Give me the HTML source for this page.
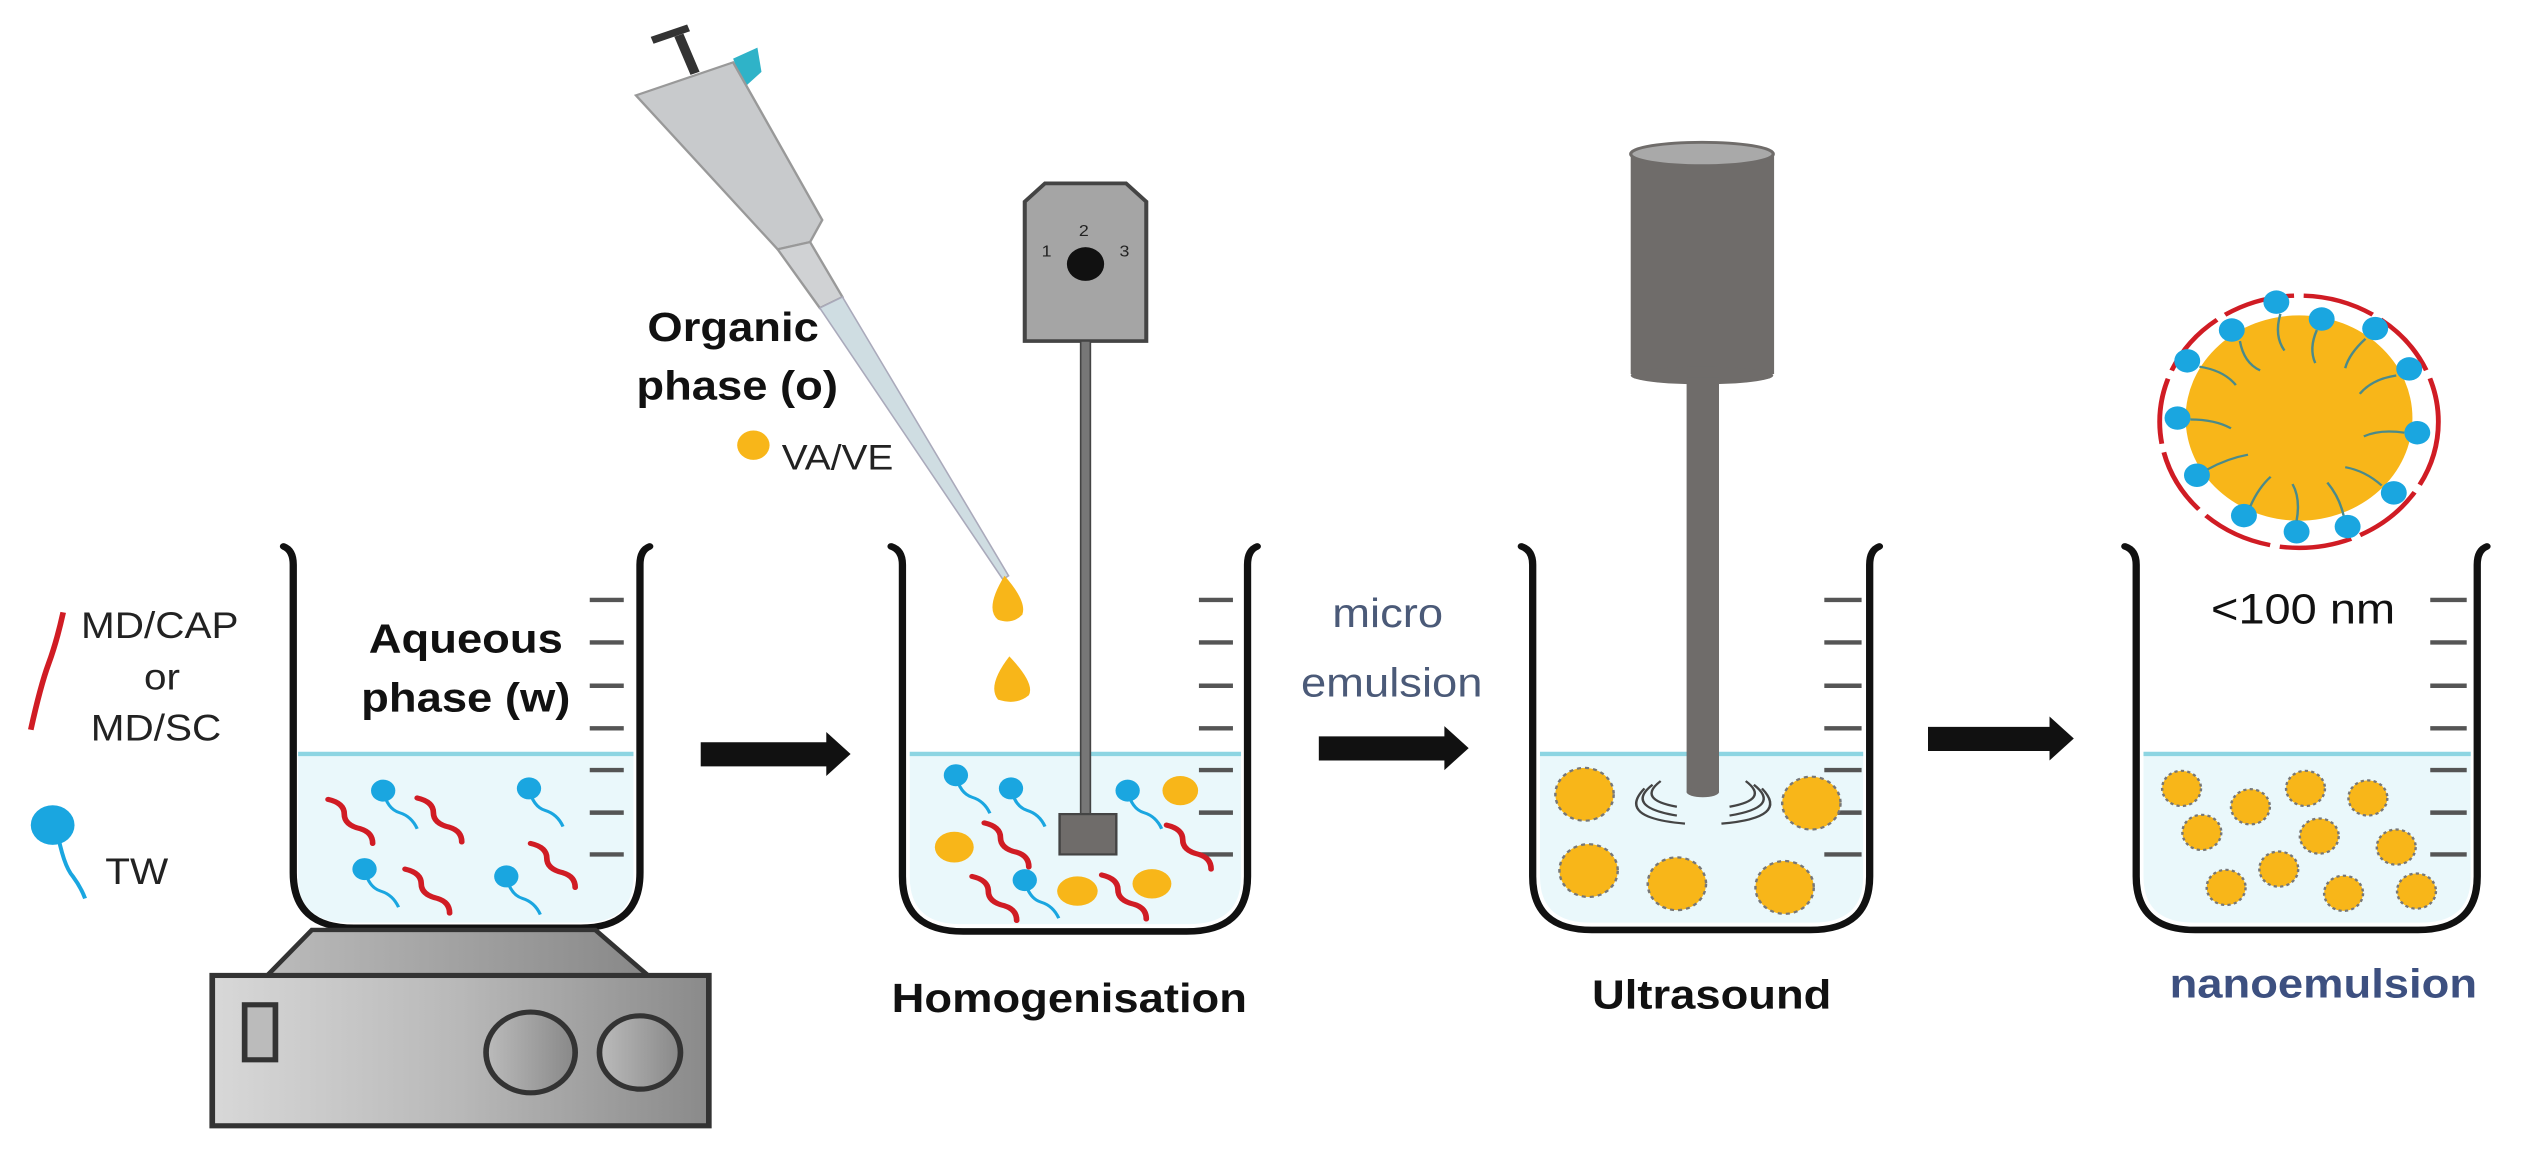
<!DOCTYPE html>
<html><head><meta charset="utf-8"><style>html,body{margin:0;padding:0;background:#fff;overflow:hidden}svg{display:block}</style></head><body>
<svg width="2538" height="1150" viewBox="0 0 3133 1568" preserveAspectRatio="none" xmlns="http://www.w3.org/2000/svg" font-family="Liberation Sans, Arial, sans-serif">
<defs>
<linearGradient id="sg" x1="0" x2="1"><stop offset="0" stop-color="#d8d8d8"/><stop offset="0.5" stop-color="#b8b8b8"/><stop offset="1" stop-color="#8a8a8a"/></linearGradient>
<linearGradient id="cg" x1="0" x2="1"><stop offset="0" stop-color="#bbb"/><stop offset="1" stop-color="#888"/></linearGradient>
<g id="np"><circle r="36" fill="#f8b619" stroke="#777" stroke-width="3" stroke-dasharray="5,5"/></g>
<g id="np2"><circle r="24" fill="#f8b619" stroke="#777" stroke-width="3" stroke-dasharray="4,4"/></g>
<g id="tad"><path d="M0,0 q5,25 20,30 q15,5 22,22" fill="none" stroke="#1aa6e0" stroke-width="4"/><circle r="15" fill="#1aa6e0"/></g>
<g id="sq"><path d="M0,0 q20,5 20,20 q0,15 20,20 q15,5 15,20" fill="none" stroke="#d01c24" stroke-width="7" stroke-linecap="round"/></g>
</defs>

<g fill="#eaf8fb">
<path d="M368,1028 L782,1028 L782,1195 Q782,1258 720,1258 L430,1258 Q368,1258 368,1195Z"/>
<path d="M1123,1028 L1532,1028 L1532,1195 Q1532,1260 1468,1260 L1185,1260 Q1123,1260 1123,1195Z"/>
<path d="M1901,1028 L2300,1028 L2300,1195 Q2300,1258 2238,1258 L1963,1258 Q1901,1258 1901,1195Z"/>
<path d="M2646,1028 L3050,1028 L3050,1195 Q3050,1258 2988,1258 L2708,1258 Q2646,1258 2646,1195Z"/>
</g>
<g stroke="#8dd5e2" stroke-width="6">
<line x1="368" y1="1028" x2="782" y2="1028"/><line x1="1123" y1="1028" x2="1532" y2="1028"/>
<line x1="1901" y1="1028" x2="2300" y2="1028"/><line x1="2646" y1="1028" x2="3050" y2="1028"/>
</g>

<g stroke="#555" stroke-width="6">
<path d="M728,818h42M728,876h42M728,935h42M728,993h42M728,1050h42M728,1108h42M728,1165h42"/>
<path d="M1480,818h42M1480,876h42M1480,935h42M1480,993h42M1480,1050h42M1480,1108h42M1480,1165h42"/>
<path d="M2252,818h46M2252,876h46M2252,935h46M2252,993h46M2252,1050h46M2252,1108h46M2252,1165h46"/>
<path d="M3000,818h45M3000,876h45M3000,935h45M3000,993h45M3000,1050h45M3000,1108h45M3000,1165h45"/>
</g>

<g stroke="#111" stroke-width="9" fill="none" stroke-linecap="round">
<path d="M350,745 q12,5 12,25 L362,1190 Q362,1265 437,1265 L717,1265 Q790,1265 790,1190 L790,770 q0,-20 12,-25"/>
<path d="M1100,745 q14,5 14,25 L1114,1195 Q1114,1270 1189,1270 L1465,1270 Q1540,1270 1540,1195 L1540,770 q0,-20 12,-25"/>
<path d="M1878,745 q14,5 14,25 L1892,1195 Q1892,1268 1965,1268 L2235,1268 Q2308,1268 2308,1195 L2308,770 q0,-20 12,-25"/>
<path d="M2623,745 q14,5 14,25 L2637,1195 Q2637,1268 2710,1268 L2985,1268 Q3058,1268 3058,1195 L3058,770 q0,-20 12,-25"/>
</g>

<path d="M385,1268 L735,1268 L800,1330 L330,1330Z" fill="url(#cg)" stroke="#333" stroke-width="6"/>
<rect x="262" y="1330" width="613" height="205" fill="url(#sg)" stroke="#333" stroke-width="7"/>
<rect x="302" y="1370" width="38" height="75" fill="#bbb" stroke="#333" stroke-width="7"/>
<circle cx="655" cy="1435" r="55" fill="url(#cg)" stroke="#333" stroke-width="7"/>
<circle cx="790" cy="1435" r="50" fill="url(#cg)" stroke="#333" stroke-width="7"/>

<path d="M78,835 q-8,40 -18,70 q-10,30 -22,90" fill="none" stroke="#d01c24" stroke-width="7"/>
<g font-size="50" fill="#222">
<text x="100" y="870">MD/CAP</text><text x="200" y="940" text-anchor="middle">or</text><text x="112" y="1010">MD/SC</text>
<text x="130" y="1205">TW</text>
</g>
<path d="M70,1130 q8,50 20,65 q10,15 15,30" fill="none" stroke="#1aa6e0" stroke-width="5"/>
<circle cx="65" cy="1125" r="27" fill="#1aa6e0"/>

<g font-size="56" font-weight="bold" fill="#111" text-anchor="middle">
<text x="575" y="890">Aqueous</text><text x="575" y="970">phase (w)</text>
<text x="905" y="465">Organic</text><text x="910" y="545">phase (o)</text>
<text x="1320" y="1380">Homogenisation</text>
<text x="2113" y="1375">Ultrasound</text>
<text x="2868" y="1360" fill="#3d5080">nanoemulsion</text>
</g>
<text x="965" y="640" font-size="48" fill="#222">VA/VE</text>
<circle cx="930" cy="607" r="20" fill="#f8b619"/>
<g font-size="56" fill="#4b5a78" text-anchor="middle"><text x="1713" y="855">micro</text><text x="1718" y="950">emulsion</text></g>
<text x="2843" y="850" font-size="58" fill="#111" text-anchor="middle">&lt;100 nm</text>

<g fill="#111">
<path d="M865,1012 L1020,1012 L1020,998 L1050,1028 L1020,1058 L1020,1045 L865,1045Z"/>
<path d="M1628,1004 L1783,1004 L1783,990 L1813,1020 L1783,1050 L1783,1037 L1628,1037Z"/>
<path d="M2380,991 L2530,991 L2530,977 L2560,1007 L2530,1037 L2530,1024 L2380,1024Z"/>
</g>

<use href="#sq" x="405" y="1090"/><use href="#sq" x="515" y="1088"/><use href="#sq" x="500" y="1185"/><use href="#sq" x="655" y="1150"/>
<use href="#tad" x="473" y="1078"/><use href="#tad" x="653" y="1075"/><use href="#tad" x="450" y="1185"/><use href="#tad" x="625" y="1195"/>

<path d="M838,48 L858,100" stroke="#333" stroke-width="12"/><path d="M805,55 L850,38" stroke="#333" stroke-width="10"/>
<path d="M905,80 L935,65 L940,98 L918,120Z" fill="#2fb3c8"/>
<path d="M785,130 L905,85 L1015,300 L1000,330 L960,340 Z" fill="#c8cacc" stroke="#999" stroke-width="3"/>
<path d="M960,340 L1000,330 L1040,405 L1012,420Z" fill="#d0d2d4" stroke="#999" stroke-width="3"/>
<path d="M1012,420 L1040,405 L1245,785 L1238,790Z" fill="#cfdde2" stroke="#aab" stroke-width="2"/>

<path d="M1265,275 L1290,250 L1390,250 L1415,275 L1415,465 L1265,465Z" fill="#a5a5a5" stroke="#444" stroke-width="5"/>
<circle cx="1340" cy="360" r="23" fill="#111"/>
<g font-size="22" fill="#222" text-anchor="middle"><text x="1292" y="350">1</text><text x="1338" y="322">2</text><text x="1388" y="350">3</text></g>
<rect x="1334" y="465" width="12" height="645" fill="#777" stroke="#444" stroke-width="2"/>
<rect x="1308" y="1110" width="70" height="55" fill="#6f6c6a" stroke="#444" stroke-width="3"/>

<path d="M1240,785 Q1268,820 1262,838 Q1250,852 1232,845 Q1215,830 1240,785Z" fill="#f8b619"/>
<path d="M1246,895 Q1278,932 1270,948 Q1255,962 1232,954 Q1218,935 1246,895Z" fill="#f8b619"/>

<use href="#tad" x="1180" y="1057"/><use href="#tad" x="1248" y="1075"/><use href="#tad" x="1392" y="1078"/><use href="#tad" x="1265" y="1200"/>
<use href="#sq" x="1215" y="1122"/><use href="#sq" x="1440" y="1125"/><use href="#sq" x="1200" y="1195"/><use href="#sq" x="1360" y="1193"/>
<g fill="#f8b619"><ellipse cx="1457" cy="1078" rx="22" ry="20"/><ellipse cx="1178" cy="1155" rx="24" ry="21"/><ellipse cx="1330" cy="1215" rx="25" ry="20"/><ellipse cx="1422" cy="1205" rx="24" ry="20"/></g>

<rect x="2013" y="210" width="177" height="300" fill="#6f6c6a"/>
<ellipse cx="2101" cy="512" rx="88" ry="12" fill="#6f6c6a"/>
<ellipse cx="2101" cy="210" rx="88" ry="16" fill="#a9a9a9" stroke="#6f6c6a" stroke-width="4"/>
<rect x="2082" y="515" width="40" height="565" fill="#6f6c6a"/>
<ellipse cx="2102" cy="1080" rx="20" ry="7" fill="#6f6c6a"/>
<g fill="none" stroke="#444" stroke-width="3">
<path d="M2050,1065 q-30,25 20,35"/><path d="M2040,1070 q-35,30 30,42"/><path d="M2030,1075 q-35,40 50,48"/>
<path d="M2155,1065 q30,25 -20,35"/><path d="M2165,1070 q35,30 -30,42"/><path d="M2175,1075 q35,40 -50,48"/>
</g>
<use href="#np" x="1956" y="1083"/><use href="#np" x="2236" y="1095"/><use href="#np" x="1961" y="1187"/><use href="#np" x="2070" y="1205"/><use href="#np" x="2203" y="1210"/>

<use href="#np2" x="2693" y="1075"/><use href="#np2" x="2778" y="1100"/><use href="#np2" x="2846" y="1075"/><use href="#np2" x="2923" y="1088"/><use href="#np2" x="2718" y="1135"/><use href="#np2" x="2863" y="1140"/><use href="#np2" x="2958" y="1155"/><use href="#np2" x="2813" y="1185"/><use href="#np2" x="2748" y="1210"/><use href="#np2" x="2893" y="1218"/><use href="#np2" x="2983" y="1215"/>

<circle cx="2838" cy="570" r="140" fill="#f8b619"/>
<circle cx="2838" cy="575" r="172" fill="none" stroke="#d01c24" stroke-width="6" stroke-dasharray="90,12"/>
<g fill="#1aa6e0">
<circle cx="2810" cy="412" r="16"/><circle cx="2866" cy="435" r="16"/><circle cx="2755" cy="450" r="16"/><circle cx="2932" cy="448" r="16"/>
<circle cx="2700" cy="492" r="16"/><circle cx="2974" cy="503" r="16"/><circle cx="2688" cy="570" r="16"/><circle cx="2984" cy="590" r="16"/>
<circle cx="2712" cy="648" r="16"/><circle cx="2955" cy="672" r="16"/><circle cx="2770" cy="703" r="16"/><circle cx="2835" cy="725" r="16"/><circle cx="2898" cy="718" r="16"/>
</g>
<g stroke="#4b8a8a" stroke-width="3" fill="none">
<path d="M2815,428 q-8,30 5,50"/><path d="M2860,450 q-10,25 -2,45"/><path d="M2765,465 q5,30 25,40"/><path d="M2920,462 q-20,20 -25,40"/>
<path d="M2715,500 q30,5 45,25"/><path d="M2958,512 q-30,5 -45,25"/><path d="M2704,572 q30,0 50,12"/><path d="M2968,590 q-30,-5 -50,5"/>
<path d="M2725,640 q25,-15 50,-20"/><path d="M2940,662 q-20,-20 -45,-25"/><path d="M2778,690 q10,-25 25,-40"/><path d="M2835,710 q5,-30 -5,-50"/><path d="M2893,703 q-5,-25 -20,-45"/>
</g>
</svg>
</body></html>
